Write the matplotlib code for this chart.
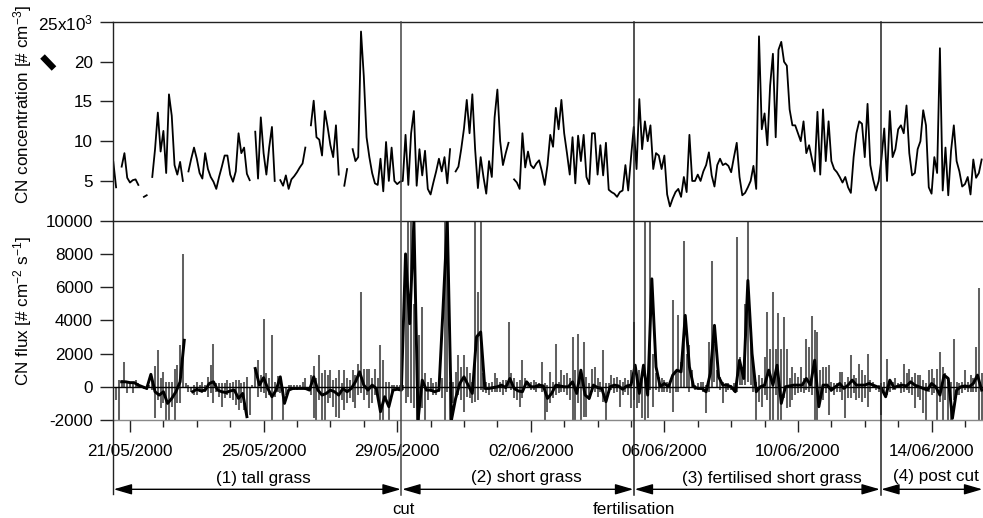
#!/usr/bin/env python3

import matplotlib
matplotlib.use("Agg")
import matplotlib.pyplot as plt
import matplotlib.dates as mdates
from matplotlib.lines import Line2D
from matplotlib.transforms import blended_transform_factory
import numpy as np
import pandas as pd

nan = np.nan

# CN concentration, thousands per cm3, one value every 2 h from 20/05 12:00
conc = [
    7.4, 4.2, nan, 6.8, 8.5, 5.4,
    4.8, 5.1, 5.2, 4.5, nan, 3.0, 3.2, nan, 5.5, 9.0, 13.6, 8.7,
    11.3, 6.0, 15.9, 13.2, 7.0, 5.8, 7.4, 5.0, nan, 6.2, 7.8, 9.2,
    7.8, 6.0, 5.3, 8.5, 6.5, 5.5, 4.9, 4.0, 5.5, 6.8, 8.2, 8.2,
    5.8, 4.9, 6.2, 11.0, 8.5, 9.2, 5.9, 5.1, nan, 11.2, 5.3, 13.0,
    8.5, 5.8, 9.2, 11.8, 5.0, nan, 5.1, 4.4, 5.7, 4.0, 5.2, 5.6,
    6.1, 6.7, 7.2, 9.2, nan, 12.0, 15.1, 10.5, 10.2, 8.2, 13.8, 11.8,
    9.5, 8.0, 12.0, 5.8, nan, 4.4, 6.5, nan, 9.0, 7.5, 8.0, 23.8,
    18.2, 10.5, 8.0, 6.0, 4.7, 4.5, 7.8, 3.7, 9.9, 5.0, 9.2, 5.0,
    4.6, 4.9, 5.0, 10.8, 4.5, 11.0, 13.8, 4.4, 9.0, 5.7, 8.8, 4.0,
    3.3, 4.8, 6.2, 7.8, 6.2, 8.0, 4.7, 9.0, nan, 6.2, 6.8, 9.0,
    11.6, 15.2, 11.0, 15.9, 9.0, 4.1, 8.0, 5.5, 3.4, 7.5, 5.5, 13.0,
    16.5, 10.0, 7.0, 8.5, 9.8, nan, 5.2, 4.8, 4.0, 11.0, 6.7, 8.7,
    7.0, 6.6, 7.2, 7.6, 6.2, 4.5, 7.0, 10.8, 9.3, 14.2, 11.5, 15.2,
    11.0, 8.5, 5.8, 10.5, 4.7, 10.7, 7.5, 10.8, 5.5, 4.6, 11.0, 11.0,
    5.8, 9.5, 5.7, 9.8, 3.9, 3.6, 3.4, 3.0, 3.6, 3.8, 7.0, 3.8,
    7.9, 11.8, 6.5, 15.3, 9.0, 12.5, 10.0, 12.0, 6.5, 8.5, 8.2, 6.5,
    8.2, 3.3, 1.8, 2.8, 3.6, 4.0, 3.0, 5.5, 3.6, 10.8, 5.0, 5.0,
    5.8, 5.0, 6.2, 7.0, 8.6, 5.7, 4.3, 7.0, 7.8, 7.0, 7.2, 6.9,
    6.1, 8.0, 9.8, 5.5, 3.2, 3.5, 4.2, 5.0, 6.9, 4.0, 23.2, 11.5,
    13.5, 9.5, 17.0, 21.0, 10.5, 21.5, 22.5, 20.0, 19.5, 14.0, 12.0, 12.0,
    11.0, 10.0, 12.5, 8.5, 9.5, 7.8, 6.2, 13.7, 5.8, 14.0, 7.5, 12.5,
    7.5, 6.5, 6.1, 5.5, 4.8, 5.5, 4.2, 3.5, 8.0, 11.0, 12.5, 12.2,
    8.0, 14.7, 7.0, 5.2, 3.8, 5.0, 7.8, 11.6, 5.0, 13.8, 8.0, 9.0,
    11.5, 12.0, 11.0, 14.5, 8.5, 5.7, 6.0, 9.0, 10.0, 13.9, 12.0, 4.2,
    3.4, 8.0, 6.0, 21.7, 3.8, 9.2, 3.2, 8.8, 12.0, 7.5, 6.2, 4.3,
    4.6, 5.5, 3.3, 7.7, 5.4, 6.0, 7.7,
]

# highest and lowest raw CN flux in each of the same 2 h bins
flux_high = [
    -100, -100, 400, 400, 1500, 350,
    300, 250, 400, 200, 100, 0, 0, 100, 400, 1250, 2200, 500,
    900, 300, 300, 300, 1100, 1300, 2500, 8000, 200, 100, 0, 100,
    300, 100, 300, 100, 600, 1300, 2600, 200, 200, 200, 200, 400,
    200, 300, 400, 400, 200, 300, 600, 0, 100, 1000, 1600, 700,
    4100, 800, 500, 3100, 300, 650, 200, 0, 0, 100, 100, 100,
    100, 100, 300, 500, 0, 700, 1250, 500, 1900, 800, 1000, 700,
    1000, 400, 500, 1000, 200, 1000, 500, 400, 1000, 700, 1400, 5700,
    1100, 1100, 1100, 500, 1100, 500, 2500, 1600, 300, 300, 100, 100,
    100, 100, 100, 8000, 10000, 10000, 5000, 1500, 3100, 4800, 800, 300,
    500, 200, 300, 400, 500, 10000, 10000, 300, 300, 900, 1900, 1200,
    1900, 1200, 800, 300, 10000, 5700, 10000, 800, 300, 200, 300, 800,
    500, 300, 400, 400, 3900, 800, 500, 300, 400, 1600, 500, 300,
    300, 400, 300, 200, 1500, 200, 100, 900, 300, 2600, 300, 1000,
    700, 800, 500, 3000, 1000, 3200, 500, 2700, 600, 200, 1100, 1200,
    500, 300, 2200, 200, 200, 700, 500, 600, 400, 300, 500, 400,
    1000, 3900, 500, 1000, 800, 10000, 800, 10000, 2000, 800, 600, 500,
    400, 300, 300, 5200, 1000, 4300, 1500, 8800, 2000, 2500, 1000, 100,
    200, 300, 300, 100, 2700, 7600, 2600, 1000, 600, 300, 200, 200,
    100, 200, 9000, 1800, 1200, 5000, 10000, 3300, 1500, 300, 700, 500,
    1800, 4500, 2300, 5700, 2300, 4450, 2300, 4200, 2300, 500, 1200, 800,
    600, 1200, 500, 2900, 2400, 4250, 3400, 3300, 1000, 1200, 1200, 1300,
    300, 200, 200, 900, 900, 300, 600, 1900, 700, 500, 1350, 1000,
    700, 2000, 400, 300, 100, 100, 200, 300, 1700, 300, 300, 500,
    200, 300, 1400, 800, 1100, 600, 800, 700, 700, 400, 200, 1000,
    1100, 500, 1100, 2100, 1200, 800, 300, 300, 2900, 300, 200, 300,
    1000, 300, 700, 500, 2400, 5950, 800,
]
flux_low = [
    -2000, -800, -2000, -100, -100, -400,
    -100, -400, -100, 0, -100, -150, -200, -100, -200, -1900, -800, -1300,
    -1000, -2000, -2000, -1200, -2000, -1000, -1000, -100, -100, -300, -300, -500,
    -500, -300, -400, -300, -600, -400, -1000, -300, -600, -1200, -700, -500,
    -700, -800, -1100, -1400, -1000, -1400, -1700, -1700, -100, -100, -600, -300,
    -400, -700, -500, -2000, -600, -300, -400, -2000, -500, -200, -200, -200,
    -200, -100, -100, -200, -200, -500, -1900, -2000, -800, -2000, -2000, -1000,
    -700, -1200, -1800, -1900, -800, -1400, -1000, -700, -900, -1300, -500, -400,
    -800, -500, -1300, -1000, -500, -700, -2000, -2000, -700, -2000, -500, -200,
    -100, -200, -200, -1000, -600, -1000, -1300, -2000, -2000, -1300, -2000, -800,
    -300, -500, -500, -300, -700, -2000, -300, -2000, -1000, -700, -500, -800,
    -1500, -600, -700, -1000, -900, -800, -200, -300, -400, -500, -300, -300,
    -300, -300, -500, -300, -100, -200, -700, -800, -1200, -700, -100, -100,
    -200, -200, -300, -100, -300, -2000, -1500, -1000, -700, -500, -400, -300,
    -300, -500, -800, -2000, -2000, -1000, -2000, -1800, -1800, -800, -300, -300,
    -600, -300, -900, -2000, -400, -200, -400, -300, -1200, -500, -300, -500,
    -1300, -800, -1300, -1000, -1900, -2000, -1900, -200, -1200, -200, -300, -300,
    -300, -300, -400, -1500, -300, -300, -100, 0, -100, -300, 0, -200,
    -100, -200, -300, -1600, -300, -100, 300, 0, -200, -1000, -300, -200,
    -200, -300, -300, 100, 100, 100, 300, 100, -300, -2000, -900, -1200,
    -500, -800, -2000, -2000, -500, -2000, -2000, -700, -1300, -1200, -800, -500,
    -400, -300, -400, -200, -300, -500, -2000, -2000, -900, -800, -400, -1700,
    -300, -500, -300, -300, -800, -1900, -700, -700, -400, -800, -700, -900,
    -700, -1200, -300, -100, -200, -300, -1700, -500, -500, -300, -200, -200,
    -100, -400, -300, -200, -400, -500, -1300, -600, -800, -1600, -2000, -300,
    -500, -400, -2000, -900, -2000, -800, -2000, -2000, -800, -500, -500, -400,
    -200, -300, -300, -300, -300, -2000, -2000,
]

# smoothed CN flux, one value every 3 h from 20/05 12:00
flux_smooth = [
    -900, nan, 300, 300,
    250, 250, 100, 0, -100, 750, -300, -500,
    -300, -1000, -700, -300, 300, 2800, nan, -300,
    -150, -250, -200, 200, 300, -200, -300, -350,
    -250, -200, -700, -400, -1800, nan, 1100, 100,
    550, -100, -600, -200, 600, -1000, -200, -100,
    -100, -100, -100, -200, 600, -200, -500, -400,
    -200, -300, -500, -100, -300, -100, 300, 900,
    100, -200, 100, -100, -1500, -600, -1200, -200,
    -150, -200, 8000, 3800, 10000, -2000, 400, -200,
    -200, -300, -200, 4800, 10000, -2000, -700, 200,
    600, 100, -400, 3000, 3300, -100, -100, -50,
    0, 100, -50, 500, -100, -250, -300, 300,
    0, 0, 100, 50, -700, -400, 100, 50,
    0, 0, 300, -400, 1000, -500, -700, 100,
    -50, -100, -900, 0, 100, 50, -150, 50,
    100, 1300, -400, 1300, -500, 6500, 1200, 0,
    200, 0, 700, 1000, 900, 4300, 1200, 0,
    -100, -100, -300, 800, 3700, 600, 100, 100,
    0, -300, 1600, 500, 6400, 2000, -300, 0,
    100, 1000, 100, 1300, -1000, 0, 50, 100,
    100, 100, 500, 100, 1600, -1200, 100, 100,
    -200, 0, 200, -100, 100, 400, 100, 100,
    100, 200, 100, 0, -100, -600, 400, -50,
    50, 100, 50, 300, 100, 0, -100, -200,
    200, 0, -500, 700, 500, -1900, -200, 0,
    50, 0, 200, 700, -200,
]

conc_ticks = [5, 10, 15, 20, 25]
conc_ticklabels = ["5", "10", "15", "20", "25x10$^{3}$"]
flux_ticks = [-2000, 0, 2000, 4000, 6000, 8000, 10000]

events = ["2000-05-29 03:05", "2000-06-05 02:10", "2000-06-12 11:20"]
event_names = ["cut", "fertilisation"]
periods = ["(1) tall grass", "(2) short grass", "(3) fertilised short grass", "(4) post cut"]
period_centres = ["2000-05-25 00:00", "2000-06-01 21:00", "2000-06-09 05:00", "2000-06-14 03:00"]

W, H = 983, 518
TXT = 12.3

plt.rcParams["font.family"] = ["Liberation Sans", "DejaVu Sans"]
plt.rcParams["mathtext.fontset"] = "custom"
plt.rcParams["mathtext.rm"] = "Liberation Sans"
plt.rcParams["mathtext.default"] = "regular"
plt.rcParams["axes.unicode_minus"] = False

t2 = pd.date_range("2000-05-20 12:00", periods=len(conc), freq="2h")
t3 = pd.date_range("2000-05-20 12:00", periods=len(flux_smooth), freq="3h")
x_start = pd.Timestamp("2000-05-20 11:47")
x_end = pd.Timestamp("2000-06-15 12:58")

fig = plt.figure(figsize=(W / 100, H / 100), dpi=100)
ax1 = fig.add_axes([113 / W, 1 - 220.7 / H, 870 / W, 198.7 / H])
ax2 = fig.add_axes([113 / W, 1 - 420 / H, 870 / W, 199.3 / H], sharex=ax1)

ax1.plot(t2, conc, color="black", lw=1.3)
ax1.set_ylim(0, 25)
ax1.set_yticks(conc_ticks)
ax1.set_yticklabels(conc_ticklabels)

ax2.vlines(t2, flux_low, flux_high, color="#626262", lw=1.45)
ax2.axhline(0, color="black", lw=1.0, zorder=2)
ax2.plot(t3, flux_smooth, color="black", lw=2.1, zorder=3)
ax2.set_ylim(-2000, 10000)
ax2.set_yticks(flux_ticks)
ax2.set_xlim(x_start, x_end)

ax2.xaxis.set_major_locator(mdates.DayLocator(bymonthday=[21, 25, 29, 2, 6, 10, 14]))
ax2.xaxis.set_major_formatter(mdates.DateFormatter("%d/%m/%Y"))
ax2.xaxis.set_minor_locator(mdates.DayLocator())

for ax in (ax1, ax2):
    ax.spines["right"].set_visible(False)
    for s in ("left", "top", "bottom"):
        ax.spines[s].set_linewidth(1.0)
        ax.spines[s].set_color("#222222")
    ax.tick_params(axis="y", length=9.4, width=1.0, color="#222222", pad=5, labelsize=TXT)
ax1.spines["bottom"].set_visible(False)
ax2.spines["bottom"].set_color("#888888")
ax1.tick_params(axis="x", which="both", bottom=False, labelbottom=False)
ax2.tick_params(axis="x", which="major", length=8.6, width=1.0, color="#222222", pad=8.5, labelsize=TXT)
ax2.tick_params(axis="x", which="minor", length=5, width=1.0, color="#222222")

# period separators run through both panels and down past the arrows
trans = blended_transform_factory(ax2.transData, fig.transFigure)
for when, col in zip(events, ["#444444", "#222222", "#222222"]):
    x = mdates.date2num(pd.Timestamp(when))
    fig.add_artist(Line2D([x, x], [1 - 22 / H, 1 - 495 / H], transform=trans, color=col, lw=1.1))
x0 = mdates.date2num(x_start)
fig.add_artist(Line2D([x0, x0], [1 - 420 / H, 1 - 494 / H], transform=trans, color="#222222", lw=1.0))

edges = [x_start] + [pd.Timestamp(e) for e in events] + [x_end]
for i in range(4):
    ax2.annotate("", xy=(mdates.date2num(edges[i]), 1 - 489.3 / H),
                 xytext=(mdates.date2num(edges[i + 1]), 1 - 489.3 / H),
                 xycoords=trans, textcoords=trans, annotation_clip=False,
                 arrowprops=dict(arrowstyle="<|-|>,head_length=0.55,head_width=0.16", mutation_scale=20,
                                 color="black", lw=1.0, shrinkA=0.5, shrinkB=0.5))

for name, centre, y in zip(periods, period_centres, [478, 477.5, 478, 476.5]):
    fig.text(mdates.date2num(pd.Timestamp(centre)), 1 - y / H, name, transform=trans,
             ha="center", va="center", fontsize=TXT)

fig.text(mdates.date2num(pd.Timestamp(events[0])) + 0.07, 1 - 509 / H, event_names[0], transform=trans,
         ha="center", va="center", fontsize=12)
fig.text(mdates.date2num(pd.Timestamp(events[1])), 1 - 510 / H, event_names[1], transform=trans,
         ha="center", va="center", fontsize=TXT)

fig.text(23 / W, 1 - 105 / H, "CN concentration [# cm$^{-3}$]", rotation=90, ha="center", va="center", fontsize=TXT)
fig.text(23 / W, 1 - 311 / H, "CN flux [# cm$^{-2}$ s$^{-1}$]", rotation=90, ha="center", va="center", fontsize=TXT)

# stray blob left of the upper axis label in the original
fig.add_artist(Line2D([42.5 / W, 54 / W], [1 - 56.5 / H, 1 - 68.5 / H], color="black", lw=4.6, solid_capstyle="butt"))

fig.savefig("out.png", dpi=100)
